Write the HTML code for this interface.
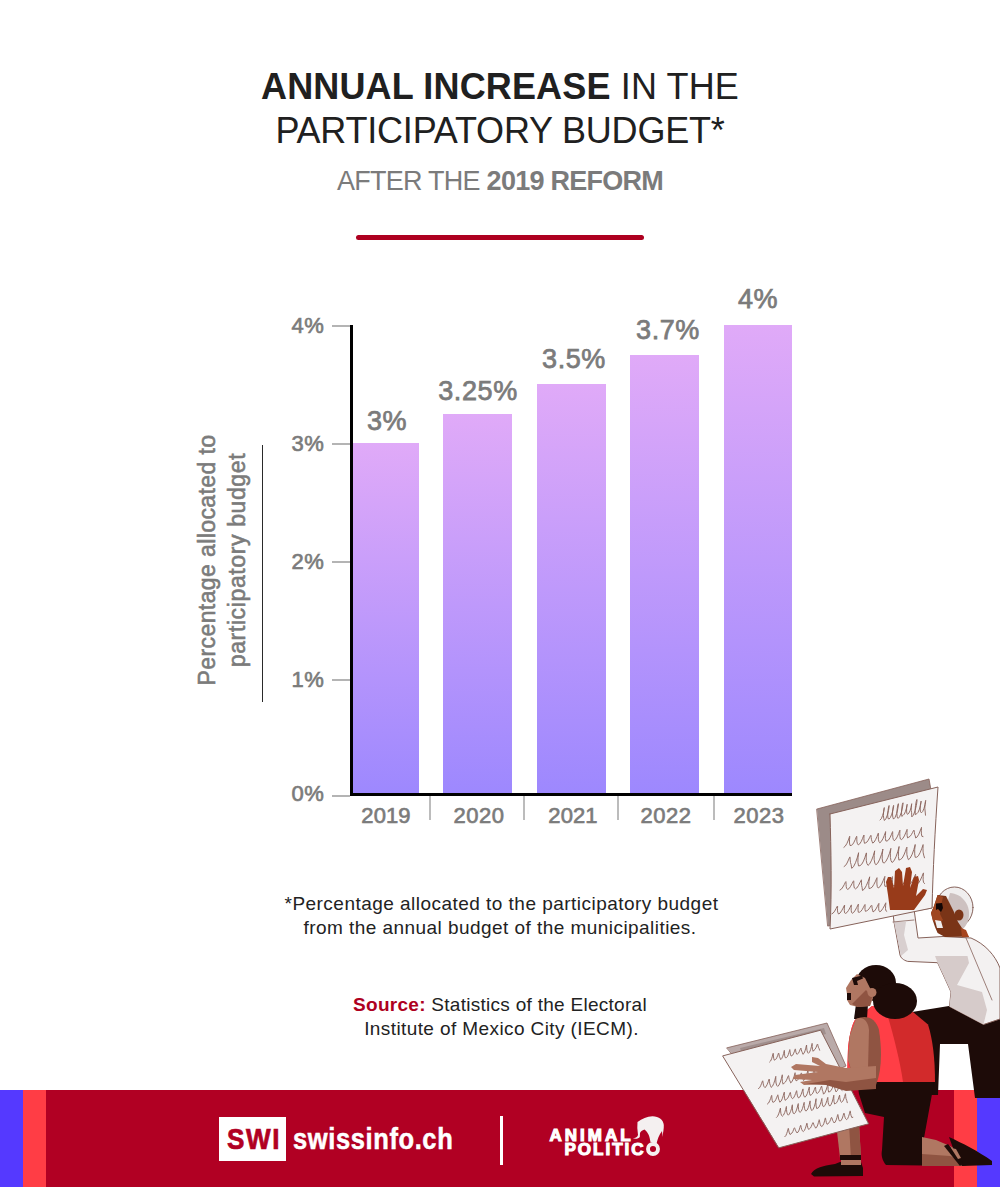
<!DOCTYPE html>
<html><head><meta charset="utf-8">
<style>
html,body{margin:0;padding:0;background:#fff;}
body{width:1000px;height:1187px;position:relative;overflow:hidden;font-family:"Liberation Sans",sans-serif;}
.t{position:absolute;white-space:nowrap;line-height:1;}
.c{left:0;width:1000px;text-align:center;}
#title1,#title2{font-size:36px;color:#202020;}
#title1{top:69.2px;letter-spacing:0.15px;}
#title2{top:113.3px;letter-spacing:-0.2px;}
#sub{top:168.2px;font-size:27px;color:#7b7b7b;letter-spacing:-0.75px;}
#redline{position:absolute;left:356px;top:235px;width:288px;height:5px;border-radius:3px;background:#ae0020;}
.ylab{position:absolute;font-size:22px;font-weight:normal;-webkit-text-stroke:0.65px #7b7b7b;color:#7b7b7b;right:676px;line-height:1;letter-spacing:0.3px;margin-top:-0.5px;}
.tick{position:absolute;left:332px;width:18px;height:2px;background:#b4b4b4;}
.bar{position:absolute;bottom:393px;background:linear-gradient(#e0aaf8,#9d88fe);}
.val{position:absolute;font-size:27px;letter-spacing:0.6px;font-weight:normal;-webkit-text-stroke:0.75px #7b7b7b;color:#7b7b7b;line-height:1;text-align:center;width:120px;margin-top:-0.8px;}
.xl{position:absolute;top:805px;font-size:22px;letter-spacing:0.1px;font-weight:normal;-webkit-text-stroke:0.65px #7b7b7b;color:#7b7b7b;line-height:1;text-align:center;width:100px;}
.xt{position:absolute;top:796px;width:2px;height:24px;background:#bcbcbc;}
#note1,#note2,#src1,#src2{font-size:19px;color:#222;}
#note1{letter-spacing:0.47px;margin-left:1.5px;}
#note2{letter-spacing:0.45px;}
#src1{letter-spacing:0.28px;}
#src2{letter-spacing:0.4px;margin-left:1.5px;}
</style></head><body>
<div id="title1" class="t c"><b>ANNUAL INCREASE</b> IN THE</div>
<div id="title2" class="t c">PARTICIPATORY BUDGET*</div>
<div id="sub" class="t c">AFTER THE <b>2019 REFORM</b></div>
<div id="redline"></div>

<!-- chart -->
<div class="ylab" style="top:315.6px">4%</div>
<div class="ylab" style="top:433.6px">3%</div>
<div class="ylab" style="top:551.6px">2%</div>
<div class="ylab" style="top:669.6px">1%</div>
<div class="ylab" style="top:783px">0%</div>
<div class="tick" style="top:325px"></div>
<div class="tick" style="top:443px"></div>
<div class="tick" style="top:561px"></div>
<div class="tick" style="top:679px"></div>
<div class="tick" style="top:795px"></div>

<div class="bar" style="left:350px;width:69px;height:351px"></div>
<div class="bar" style="left:443px;width:69px;height:380px"></div>
<div class="bar" style="left:537px;width:69px;height:410px"></div>
<div class="bar" style="left:630px;width:69px;height:439px"></div>
<div class="bar" style="left:724px;width:68px;height:469px"></div>

<div style="position:absolute;left:350px;top:325px;width:3px;height:471px;background:#000"></div>
<div style="position:absolute;left:350px;top:793px;width:442px;height:3px;background:#000"></div>

<div class="val" style="left:327px;top:409px">3%</div>
<div class="val" style="left:418px;top:379px">3.25%</div>
<div class="val" style="left:514px;top:347px">3.5%</div>
<div class="val" style="left:608px;top:318px">3.7%</div>
<div class="val" style="left:698px;top:287px">4%</div>

<div class="xt" style="left:429px"></div>
<div class="xt" style="left:523px"></div>
<div class="xt" style="left:617px"></div>
<div class="xt" style="left:713px"></div>
<div class="xl" style="left:336px">2019</div>
<div class="xl" style="left:429px;letter-spacing:0.5px">2020</div>
<div class="xl" style="left:523px">2021</div>
<div class="xl" style="left:616px;letter-spacing:0.5px">2022</div>
<div class="xl" style="left:709px;letter-spacing:0.5px">2023</div>

<div style="position:absolute;left:0;top:0;width:0;height:0;">
  <div class="t" style="left:222px;top:560px;transform:translate(-50%,-50%) rotate(-90deg);font-size:23px;letter-spacing:0.4px;color:#7b7b7b;text-align:center;line-height:30px;-webkit-text-stroke:0.6px #7b7b7b;">Percentage allocated to<br><span style="letter-spacing:0.62px">participatory budget</span></div>
</div>
<div style="position:absolute;left:261.8px;top:445px;width:1.2px;height:257px;background:#2a2a2a"></div>

<div id="note1" class="t c" style="top:893.8px">*Percentage allocated to the participatory budget</div>
<div id="note2" class="t c" style="top:917.8px">from the annual budget of the municipalities.</div>
<div id="src1" class="t c" style="top:995px"><b style="color:#ae0020">Source:</b> Statistics of the Electoral</div>
<div id="src2" class="t c" style="top:1019px">Institute of Mexico City (IECM).</div>

<!-- footer -->
<div style="position:absolute;left:0;top:1090px;width:1000px;height:97px;background:#b10023"></div>
<div style="position:absolute;left:0;top:1090px;width:23px;height:97px;background:#5539ff"></div>
<div style="position:absolute;left:23px;top:1090px;width:23px;height:97px;background:#ff3d45"></div>
<div style="position:absolute;left:954px;top:1090px;width:23px;height:97px;background:#ff3d45"></div>
<div style="position:absolute;left:977px;top:1090px;width:23px;height:97px;background:#5539ff"></div>


<!-- logos -->
<div style="position:absolute;left:219px;top:1117px;width:67px;height:44px;background:#fff"></div>
<div class="t" style="left:226.5px;top:1124.5px;font-size:29px;font-weight:bold;color:#b10023;letter-spacing:1.8px;-webkit-text-stroke:0.7px #b10023;transform:scaleX(0.9);transform-origin:0 0;">SWI</div>
<div class="t" style="left:293px;top:1124.5px;font-size:29px;font-weight:bold;color:#fff;letter-spacing:0.68px;-webkit-text-stroke:0.5px #fff;transform:scaleX(0.88);transform-origin:0 0;">swissinfo.ch</div>
<div style="position:absolute;left:500px;top:1116px;width:3px;height:49px;background:#fff"></div>
<div class="t" style="left:549.5px;top:1126.5px;font-size:17px;font-weight:bold;color:#fff;letter-spacing:3.0px;-webkit-text-stroke:1.1px #fff;">ANIMAL</div>
<div class="t" style="left:564.5px;top:1140.5px;font-size:17px;font-weight:bold;color:#fff;letter-spacing:2.0px;-webkit-text-stroke:1.1px #fff;">POLITIC</div>
<svg style="position:absolute;left:0;top:0" width="1000" height="1187" viewBox="0 0 1000 1187">
  <circle cx="653" cy="1149" r="5.0" fill="none" stroke="#f4f0f0" stroke-width="3.9"/>
  <path d="M637.5,1122 C642,1119 647,1116.5 652.5,1116.3 C659,1116.5 663.5,1120 663.8,1125 C664,1129 663,1132 662.5,1137 L662,1131 C660,1134 658,1137 656.5,1144 L650.5,1142 C649.5,1136 648.5,1133 644.5,1129.5 C642,1130.5 640.5,1131.5 640,1133 L639.8,1137 C638.5,1139 635,1139 632.8,1138.3 C635,1138 637.5,1137.5 638,1135 L637.3,1128 Z" fill="#f4f0f0"/>
</svg>


<!-- illustration -->
<svg id="illu" style="position:absolute;left:0;top:0" width="1000" height="1187" viewBox="0 0 1000 1187"><g stroke-linejoin="round" stroke-linecap="round">
<path d="M912,1012 L955,1005 L1000,1000 L1000,1098 L975,1098 L968,1044 L940,1044 L938,1095 L912,1095 Z" fill="#1d0b08"/>
<path d="M893,909 L914,909 L918,938 L943,936.5 L971,938 C985,944 995,955 1000,968 L1000,1019 L983.5,1024.5 L949.5,1006.5 L951,992 L945.4,979.6 L937.6,962.7 L907.7,961.4 C903,960 901,958 900,955 L894,922 Z" fill="#f3f1f1" stroke="#86625a" stroke-width="1"/>
<path d="M935,956 L967.5,956 L969,963 L957,985 L982,992 L987,1010 L983.5,1024.5 L949.5,1006.5 L951,992 L945.4,979.6 L937.6,962.7 Z" fill="#d6cbca"/>
<path d="M894,922 L906,922 L904,935 L908,950 L901,956 Z" fill="#d8cfcf"/>
<path d="M966,938 L992,1000" stroke="#86625a" stroke-width="0.8" fill="none"/>
<path d="M893,922 L914,920" stroke="#86625a" stroke-width="0.8" fill="none"/>
<ellipse cx="954.5" cy="907.5" rx="18.5" ry="20.5" fill="#f0eeee" stroke="#86625a" stroke-width="1"/>
<path d="M950,893 C962,894 970,904 969,916 C968,924 964,929 960,931 L952,918 L948,900 Z" fill="#cdc1c0"/>
<path d="M937.6,895 L946,896 L950,904 L954,912 L958,922 L962,928 L969,937 L963.6,936.7 L945,937 L937.6,933 L935,927 L933,921 L931,913 L934,906 Z" fill="#7a3417"/>
<path d="M937.6,895 L943,897 L941,906 L940,914 L943,920 L938,924 L933,921 L931,913 L934,906 Z" fill="#9f4620"/>
<path d="M961,928 L966,930 L969,937 L962,937 Z" fill="#a6451f"/>
<ellipse cx="959" cy="915" rx="4.5" ry="5.5" fill="#7a3417"/>
<path d="M936,903.5 L942,903 L943,908 L941,912 L938,909 L936,910 Z" fill="#120605"/>
<path d="M935,920 L941,921 L943,928 L937,928 Z" fill="#f0eeee"/>
<path d="M817,809 L929,779 L931,790 L932,908 L828,926 Z" fill="#9c8b88" stroke="#86625a" stroke-width="0.8"/>
<path d="M830,814 L938,787 C935,830 933,870 932,908 L830,929 C832,890 831,850 830,814 Z" fill="#f4f2f2" stroke="#86625a" stroke-width="1"/>
<g fill="none" stroke="#7e524a" stroke-width="0.9" opacity="0.9">
<path d="M880.0,820.0 L881.3,818.7 L882.6,815.5 L883.7,811.7 L884.2,808.7 L884.3,807.6 L884.0,808.8 L883.6,811.8 L883.4,815.4 L883.7,818.2 L884.4,820.5 L885.8,818.9 L887.3,815.1 L888.5,810.5 L889.1,806.9 L889.1,805.5 L888.6,806.9 L888.0,810.6 L887.7,815.0 L888.0,818.5 L889.1,819.0 L890.4,817.5 L891.8,814.1 L893.0,809.9 L893.6,806.7 L893.6,805.4 L893.2,806.7 L892.7,810.0 L892.5,814.0 L892.8,817.1 L893.5,819.1 L895.0,817.5 L896.6,813.6 L897.8,808.8 L898.4,805.0 L898.4,803.7 L897.8,805.1 L897.2,808.9 L896.9,813.5 L897.2,817.1 L898.1,818.4 L899.6,816.8 L901.2,812.8 L902.4,808.0 L903.0,804.2 L903.0,802.8 L902.4,804.3 L901.8,808.1 L901.5,812.7 L901.8,816.4 L903.1,815.3 L904.3,814.1 L905.5,811.3 L906.5,808.0 L907.1,805.3 L907.2,804.3 L906.9,805.3 L906.6,808.0 L906.6,811.1 L906.9,813.7 L907.8,814.3 L908.9,813.1 L910.1,810.5 L911.1,807.3 L911.6,804.7 L911.7,803.7 L911.5,804.7 L911.3,807.2 L911.2,810.3 L911.6,812.7 L911.8,816.9 L913.4,815.1 L915.1,810.6 L916.4,805.3 L917.0,801.0 L916.9,799.5 L916.3,801.2 L915.5,805.4 L915.1,810.6 L915.3,814.7 L916.8,813.7 L918.0,812.4 L919.4,809.2 L920.5,805.3 L921.1,802.2 L921.1,801.1 L920.8,802.3 L920.3,805.3 L920.2,809.0 L920.5,811.9 L921.4,812.8 L922.7,811.5 L924.0,808.3 L925.1,804.5 L925.6,801.5 L925.7,800.4 L925.4,801.6 L925.0,804.6 L924.8,808.2 L925.1,811.0 L925.5,815.2"/>
<path d="M843.9,847.3 L845.3,846.1 L847.0,843.3 L848.4,840.0 L849.3,837.3 L849.7,836.3 L849.7,837.3 L849.5,839.8 L849.5,843.0 L850.0,845.5 L851.3,845.4 L852.6,844.5 L854.0,842.2 L855.3,839.4 L856.2,837.2 L856.7,836.3 L856.8,837.1 L856.8,839.2 L856.9,841.8 L857.5,843.8 L858.3,844.9 L859.7,843.9 L861.3,841.4 L862.6,838.3 L863.5,835.9 L864.0,835.0 L864.0,835.8 L863.9,838.2 L864.0,841.0 L864.5,843.3 L865.8,842.8 L867.0,842.0 L868.3,840.1 L869.5,837.8 L870.4,836.0 L870.9,835.3 L871.1,835.9 L871.2,837.6 L871.5,839.7 L872.0,841.3 L872.7,843.1 L874.1,842.1 L875.6,839.6 L877.0,836.5 L877.9,834.1 L878.3,833.2 L878.4,834.0 L878.3,836.4 L878.4,839.2 L878.9,841.5 L879.8,842.8 L881.2,841.6 L882.9,838.8 L884.3,835.4 L885.3,832.7 L885.6,831.6 L885.6,832.6 L885.4,835.3 L885.4,838.5 L885.9,841.0 L887.1,841.0 L888.5,840.0 L890.0,837.7 L891.3,834.8 L892.2,832.5 L892.6,831.6 L892.7,832.4 L892.7,834.6 L892.8,837.3 L893.3,839.4 L894.2,840.7 L895.6,839.5 L897.2,836.9 L898.6,833.7 L899.5,831.1 L899.9,830.2 L899.9,831.1 L899.8,833.6 L899.9,836.6 L900.4,839.0 L901.4,839.6 L902.8,838.5 L904.4,835.9 L905.7,832.9 L906.7,830.4 L907.1,829.4 L907.1,830.3 L907.0,832.7 L907.1,835.6 L907.6,837.9 L908.9,837.1 L910.1,836.3 L911.4,834.6 L912.5,832.5 L913.4,830.8 L913.9,830.1 L914.2,830.7 L914.3,832.2 L914.6,834.2 L915.2,835.7 L915.7,838.0 L917.2,836.9 L918.8,834.2 L920.1,831.0 L921.1,828.4 L921.5,827.4 L921.5,828.3 L921.3,830.8 L921.4,833.9 L921.9,836.3 L923.0,836.6"/>
<path d="M844.1,866.5 L845.6,865.4 L847.1,863.0 L848.4,860.1 L849.4,857.8 L849.9,856.9 L850.1,857.7 L850.2,859.9 L850.5,862.5 L851.1,864.6 L851.7,868.3 L853.5,866.7 L855.5,862.7 L857.2,857.9 L858.3,854.1 L858.6,852.7 L858.4,854.1 L858.0,857.8 L857.9,862.3 L858.5,865.9 L860.0,865.7 L861.7,864.3 L863.5,861.1 L865.0,857.2 L866.0,854.1 L866.4,852.9 L866.4,854.0 L866.2,857.0 L866.3,860.7 L866.9,863.5 L868.0,865.4 L869.7,863.8 L871.6,860.2 L873.3,855.7 L874.3,852.2 L874.7,850.8 L874.5,852.1 L874.2,855.6 L874.2,859.8 L874.8,863.1 L875.9,864.8 L877.8,863.1 L879.8,859.1 L881.5,854.3 L882.6,850.5 L882.9,849.0 L882.7,850.5 L882.3,854.2 L882.2,858.8 L882.8,862.4 L884.2,863.0 L885.9,861.4 L887.8,857.7 L889.5,853.3 L890.5,849.8 L890.9,848.4 L890.7,849.7 L890.4,853.2 L890.4,857.4 L891.0,860.7 L892.1,862.5 L894.0,860.8 L896.0,856.8 L897.7,851.9 L898.8,848.0 L899.1,846.5 L898.9,847.9 L898.5,851.8 L898.4,856.4 L898.9,860.1 L900.6,859.4 L902.2,858.1 L903.9,855.0 L905.4,851.3 L906.4,848.3 L906.9,847.2 L906.9,848.3 L906.8,851.1 L906.9,854.6 L907.5,857.3 L908.4,859.7 L910.2,858.1 L912.2,854.2 L913.8,849.6 L914.9,845.9 L915.2,844.5 L915.1,845.9 L914.7,849.5 L914.7,853.9 L915.2,857.3 L916.8,857.2 L918.4,855.8 L920.1,852.7 L921.7,848.8 L922.7,845.8 L923.1,844.6 L923.1,845.7 L923.0,848.7 L923.1,852.2 L923.7,855.1 L924.5,857.8"/>
<path d="M840.0,890.0 L841.4,889.1 L842.9,887.0 L844.3,884.5 L845.3,882.4 L845.9,881.6 L846.0,882.4 L846.1,884.3 L846.2,886.7 L846.7,888.6 L847.7,889.4 L849.1,888.5 L850.6,886.3 L852.0,883.7 L853.1,881.6 L853.6,880.8 L853.8,881.5 L853.8,883.6 L853.9,886.0 L854.4,888.0 L855.4,888.9 L856.8,888.0 L858.4,885.7 L859.8,882.9 L860.9,880.7 L861.4,879.8 L861.5,880.6 L861.5,882.8 L861.6,885.4 L862.1,887.5 L862.5,890.5 L864.3,889.1 L866.3,885.6 L868.1,881.4 L869.3,878.1 L869.7,876.8 L869.5,878.0 L869.0,881.3 L868.7,885.4 L869.1,888.6 L870.7,888.1 L872.2,887.1 L873.9,884.4 L875.5,881.2 L876.5,878.7 L877.0,877.7 L877.0,878.6 L876.9,881.1 L876.9,884.1 L877.3,886.6 L878.2,888.0 L879.9,886.8 L881.7,883.9 L883.3,880.3 L884.4,877.5 L884.9,876.4 L884.8,877.4 L884.5,880.2 L884.5,883.6 L884.9,886.3 L886.2,886.3 L887.7,885.3 L889.3,882.8 L890.8,879.9 L891.9,877.6 L892.4,876.6 L892.5,877.5 L892.4,879.8 L892.4,882.6 L892.9,884.8 L893.8,886.2 L895.3,885.0 L897.1,882.3 L898.7,879.0 L899.8,876.3 L900.3,875.3 L900.2,876.3 L900.0,878.9 L900.0,882.0 L900.5,884.6 L901.6,885.1 L903.1,884.0 L904.8,881.5 L906.3,878.4 L907.4,875.9 L907.9,874.9 L907.9,875.8 L907.8,878.2 L907.8,881.2 L908.3,883.5 L909.4,884.2 L910.8,883.2 L912.5,880.7 L914.0,877.7 L915.1,875.2 L915.6,874.3 L915.7,875.2 L915.5,877.5 L915.6,880.4 L916.1,882.7 L916.9,884.2 L918.5,883.1 L920.3,880.2 L921.9,876.7 L923.0,873.9 L923.5,872.9 L923.4,873.9 L923.2,876.6 L923.1,879.9 L923.6,882.6 L924.6,883.5"/>
<path d="M831.9,913.8 L833.2,913.0 L834.7,911.1 L836.0,908.7 L837.0,906.7 L837.5,906.0 L837.6,906.7 L837.5,908.6 L837.5,910.9 L837.9,912.8 L838.6,914.0 L840.0,913.1 L841.6,910.8 L843.1,908.1 L844.1,905.9 L844.6,905.1 L844.6,905.9 L844.3,908.1 L844.3,910.7 L844.6,912.8 L845.5,913.4 L846.9,912.6 L848.5,910.4 L849.9,907.8 L850.9,905.7 L851.4,904.9 L851.4,905.7 L851.2,907.7 L851.2,910.3 L851.5,912.3 L852.3,913.3 L853.7,912.4 L855.3,910.1 L856.8,907.3 L857.9,905.1 L858.4,904.2 L858.3,905.1 L858.1,907.3 L858.0,910.0 L858.3,912.2 L859.4,912.3 L860.7,911.5 L862.2,909.6 L863.5,907.2 L864.5,905.2 L865.0,904.5 L865.1,905.2 L865.0,907.1 L865.0,909.4 L865.4,911.3 L866.6,910.9 L867.7,910.3 L869.0,908.9 L870.2,907.1 L871.1,905.7 L871.6,905.2 L871.9,905.7 L872.0,907.0 L872.2,908.7 L872.6,910.0 L873.0,911.9 L874.4,911.1 L876.0,908.9 L877.4,906.3 L878.4,904.2 L878.9,903.4 L878.9,904.2 L878.7,906.2 L878.7,908.8 L879.0,910.8 L879.8,911.8 L881.2,910.9 L882.8,908.6 L884.3,905.9 L885.4,903.6 L885.8,902.8 L885.8,903.6 L885.6,905.8 L885.5,908.5 L885.8,910.6 L886.8,911.3"/>
</g>
<path d="M890,910 L888,895 L886,882 L888,877 L891,877 L894,888 L895,871 L899,868 L902,872 L903,886 L906,868 L910,867 L912,872 L910,888 L914,877 L918,876 L919,880 L916,896 L923,889 L927,890 L925,895 L914,910 Z" fill="#983b1a"/>
<path d="M857,1080 L934,1080 L932,1094 L924,1138 L924,1165.5 L886,1165 C882,1160 881,1155 882,1150 L884,1117 L865,1113 L859,1094 Z" fill="#1d0b08"/>
<path d="M922,1137 L936,1140 L950,1146 L962,1152 L966,1166 L922,1166 Z" fill="#b07762"/>
<path d="M922,1154 L950,1156 L962,1160 L966,1166 L922,1166 Z" fill="#8f5442"/>
<path d="M949,1137 C962,1143 978,1151 992,1161 L992,1165 L962,1166 C958,1160 956,1154 953,1148 Z" fill="#1d0b08"/>
<path d="M944,1146 L948,1144 L963,1163 L960,1166 Z" fill="#1d0b08"/>
<path d="M951,1148 L956,1149 L961,1158 L958,1159 Z" fill="#b07762"/>
<path d="M848,1048 C850,1030 853,1022 856,1019 L872,1006 L913,1012 L928,1024.5 C933,1040 935,1060 935,1082 L847,1082 Z" fill="#d22a2b"/>
<path d="M848,1048 C850,1030 853,1022 856,1019 L872,1006 L886,1010 C892,1030 900,1060 903,1082 L847,1082 Z" fill="#ff3e46"/>
<ellipse cx="876" cy="983" rx="20" ry="18" fill="#1d0b08"/>
<ellipse cx="895" cy="1001" rx="22" ry="18" fill="#1d0b08"/>
<path d="M856,1004 L868,1004 L867,1019 L854,1019 Z" fill="#1d0b08"/>
<path d="M857,974 L865,978 L870,988 L873,998 L870,1006 L858,1007 L850,1005 L847,1000 L847,994 L846,988 L851,980 Z" fill="#b07762"/>
<path d="M866,990 L872,997 L870,1006 L858,1007 L852,1004 Z" fill="#8f5442"/>
<ellipse cx="872" cy="992.5" rx="4.5" ry="4.5" fill="#b07762"/>
<path d="M852,978 L862,975.5 L863,978.5 L857,981 L858,985 L854,985 Z" fill="#1d0b08"/>
<path d="M847,993 L851,993 L851,1000 L847,1000 Z" fill="#1d0b08"/>
<path d="M836.5,1127 L859,1124 L861,1158 L840,1158 Z" fill="#b07762"/>
<path d="M849,1125 L859,1124 L861,1158 L851,1158 Z" fill="#8f5442"/>
<path d="M811,1174 C814,1168 822,1166 835,1164 L840,1162 L861,1162 L863,1168 L863,1176 L814,1176.5 Z" fill="#1d0b08"/>
<path d="M840,1155 L861,1155 L861,1160 L840,1160 Z" fill="#1d0b08"/>
<path d="M841,1160 L861,1160 L861,1165 L841,1165 Z" fill="#b07762"/>
<path d="M727,1047.8 L827,1023 L846,1066 L770,1100 Z" fill="#b9aaa9" stroke="#86625a" stroke-width="0.8"/>
<path d="M740,1048 L824,1028 L826,1034 L742,1054 Z" fill="#a08f8d"/>
<path d="M723,1055.8 L820.6,1030.2 L868.6,1123.8 L779,1147.8 Z" fill="#f4f2f2" stroke="#86625a" stroke-width="1"/>
<g fill="none" stroke="#7e524a" stroke-width="0.9" opacity="0.9">
<path d="M769.6,1062.0 L770.6,1061.0 L771.6,1058.8 L772.4,1056.2 L772.9,1054.1 L773.2,1053.3 L773.3,1054.0 L773.4,1056.0 L773.7,1058.3 L774.3,1060.2 L775.3,1059.6 L776.2,1058.9 L777.0,1057.2 L777.8,1055.2 L778.3,1053.7 L778.6,1053.0 L778.8,1053.5 L779.1,1054.9 L779.4,1056.6 L780.0,1057.9 L780.7,1059.6 L781.7,1058.6 L782.8,1056.2 L783.6,1053.4 L784.1,1051.2 L784.3,1050.4 L784.4,1051.2 L784.5,1053.2 L784.7,1055.8 L785.3,1057.7 L786.3,1057.7 L787.3,1056.8 L788.3,1054.7 L789.0,1052.3 L789.6,1050.4 L789.8,1049.6 L789.9,1050.3 L790.1,1052.1 L790.4,1054.2 L791.0,1055.9 L791.9,1055.8 L792.8,1055.0 L793.7,1053.2 L794.5,1051.2 L795.0,1049.5 L795.3,1048.9 L795.5,1049.4 L795.7,1050.9 L796.1,1052.7 L796.7,1054.1 L797.5,1054.0 L798.4,1053.3 L799.2,1051.8 L799.9,1050.0 L800.5,1048.6 L800.8,1048.0 L801.1,1048.4 L801.3,1049.7 L801.7,1051.2 L802.3,1052.4 L802.9,1054.3 L804.0,1053.3 L805.0,1050.9 L805.8,1048.1 L806.3,1045.9 L806.6,1045.0 L806.6,1045.8 L806.7,1047.9 L807.0,1050.4 L807.6,1052.4 L808.4,1053.3 L809.5,1052.2 L810.6,1049.7 L811.4,1046.7 L811.9,1044.3 L812.1,1043.4 L812.2,1044.2 L812.2,1046.5 L812.5,1049.2 L813.1,1051.3 L814.2,1050.0 L815.0,1049.3 L815.9,1047.8 L816.6,1046.0 L817.2,1044.5 L817.5,1044.0 L817.7,1044.4 L818.0,1045.7 L818.4,1047.2 L819.0,1048.4 L819.6,1050.2"/>
<path d="M758.5,1088.5 L759.6,1087.7 L760.7,1085.7 L761.6,1083.4 L762.3,1081.5 L762.7,1080.8 L762.9,1081.4 L763.1,1083.1 L763.5,1085.1 L764.1,1086.7 L764.9,1087.6 L766.1,1086.6 L767.2,1084.4 L768.2,1081.9 L768.8,1079.8 L769.2,1079.0 L769.4,1079.7 L769.5,1081.6 L769.8,1083.9 L770.5,1085.7 L771.2,1087.4 L772.5,1086.2 L773.8,1083.4 L774.9,1080.1 L775.5,1077.4 L775.8,1076.4 L775.8,1077.4 L775.8,1079.9 L776.0,1083.0 L776.7,1085.3 L777.7,1086.4 L779.0,1085.1 L780.3,1082.1 L781.4,1078.6 L782.1,1075.8 L782.3,1074.8 L782.3,1075.8 L782.2,1078.5 L782.4,1081.7 L783.1,1084.2 L784.4,1082.8 L785.4,1082.0 L786.5,1080.2 L787.4,1078.0 L788.1,1076.3 L788.5,1075.6 L788.7,1076.2 L788.9,1077.7 L789.3,1079.6 L790.0,1081.0 L790.7,1082.9 L791.9,1081.8 L793.1,1079.2 L794.2,1076.1 L794.8,1073.7 L795.1,1072.7 L795.2,1073.6 L795.2,1075.9 L795.5,1078.7 L796.1,1080.9 L797.3,1080.1 L798.4,1079.3 L799.4,1077.4 L800.3,1075.3 L801.0,1073.6 L801.4,1072.9 L801.6,1073.4 L801.9,1075.0 L802.2,1076.8 L802.9,1078.3 L803.5,1080.5 L804.8,1079.3 L806.1,1076.6 L807.1,1073.3 L807.8,1070.7 L808.1,1069.7 L808.1,1070.7 L808.1,1073.1 L808.3,1076.1 L809.0,1078.4 L810.1,1078.1 L811.3,1077.1 L812.4,1074.9 L813.4,1072.3 L814.0,1070.2 L814.4,1069.4 L814.5,1070.1 L814.7,1072.0 L815.0,1074.4 L815.6,1076.2 L816.4,1078.2 L817.7,1076.9 L819.0,1074.0 L820.1,1070.4 L820.8,1067.6 L821.0,1066.6 L821.0,1067.6 L821.0,1070.3 L821.2,1073.5 L821.8,1076.0 L822.8,1077.1 L824.2,1075.7 L825.5,1072.7 L826.6,1069.0 L827.3,1066.1 L827.5,1065.0 L827.5,1066.0 L827.4,1068.8 L827.6,1072.2 L828.2,1074.9 L829.4,1074.5"/>
<path d="M767.4,1104.0 L768.6,1103.0 L769.7,1100.8 L770.7,1098.3 L771.3,1096.2 L771.7,1095.4 L771.8,1096.1 L771.9,1098.0 L772.2,1100.4 L772.8,1102.2 L773.8,1102.1 L774.8,1101.3 L775.9,1099.4 L776.8,1097.2 L777.5,1095.5 L777.8,1094.8 L778.0,1095.4 L778.2,1096.9 L778.6,1098.9 L779.2,1100.4 L779.8,1102.2 L781.1,1101.1 L782.3,1098.6 L783.3,1095.5 L784.0,1093.1 L784.3,1092.2 L784.3,1093.0 L784.3,1095.3 L784.5,1098.1 L785.1,1100.3 L786.3,1099.5 L787.3,1098.7 L788.4,1096.9 L789.3,1094.8 L789.9,1093.1 L790.3,1092.4 L790.5,1093.0 L790.7,1094.5 L791.1,1096.4 L791.7,1097.8 L792.5,1098.7 L793.6,1097.8 L794.7,1095.8 L795.6,1093.4 L796.3,1091.5 L796.6,1090.7 L796.8,1091.4 L796.9,1093.1 L797.3,1095.2 L797.8,1096.9 L798.7,1098.0 L799.8,1097.0 L801.0,1094.7 L802.0,1091.9 L802.6,1089.8 L803.0,1088.9 L803.1,1089.7 L803.1,1091.7 L803.4,1094.2 L804.0,1096.1 L804.8,1097.2 L806.1,1096.1 L807.3,1093.6 L808.3,1090.5 L809.0,1088.1 L809.3,1087.1 L809.3,1088.0 L809.3,1090.3 L809.5,1093.1 L810.1,1095.3 L811.3,1094.8 L812.3,1093.9 L813.4,1092.0 L814.3,1089.7 L815.0,1087.8 L815.4,1087.1 L815.6,1087.7 L815.7,1089.4 L816.0,1091.5 L816.6,1093.1 L817.5,1093.3 L818.6,1092.4 L819.6,1090.7 L820.5,1088.5 L821.2,1086.8 L821.6,1086.1 L821.8,1086.7 L822.0,1088.2 L822.3,1090.1 L822.9,1091.6 L823.5,1094.2 L824.8,1092.9 L826.1,1090.0 L827.2,1086.5 L827.9,1083.8 L828.1,1082.7 L828.1,1083.7 L828.0,1086.4 L828.1,1089.6 L828.7,1092.1 L829.9,1091.5 L831.1,1090.5 L832.2,1088.4 L833.2,1085.8 L833.8,1083.7 L834.2,1082.9 L834.3,1083.6 L834.4,1085.5 L834.7,1087.9 L835.3,1089.7 L836.0,1091.9 L837.3,1090.6 L838.7,1087.6 L839.8,1083.9 L840.5,1081.1 L840.7,1080.0 L840.6,1081.0 L840.5,1083.8 L840.6,1087.2 L841.2,1089.8 L842.2,1090.5"/>
<path d="M776.5,1117.4 L777.6,1116.3 L778.7,1113.9 L779.6,1111.1 L780.2,1108.8 L780.5,1108.0 L780.5,1108.8 L780.6,1110.9 L780.9,1113.4 L781.5,1115.4 L782.4,1116.2 L783.5,1115.1 L784.7,1112.6 L785.6,1109.7 L786.2,1107.4 L786.4,1106.5 L786.4,1107.3 L786.5,1109.5 L786.8,1112.2 L787.4,1114.2 L788.3,1115.2 L789.4,1114.0 L790.6,1111.4 L791.6,1108.3 L792.1,1105.8 L792.4,1104.8 L792.4,1105.7 L792.4,1108.1 L792.6,1110.9 L793.2,1113.2 L794.2,1113.7 L795.4,1112.6 L796.5,1110.0 L797.4,1107.0 L798.0,1104.5 L798.3,1103.6 L798.3,1104.5 L798.3,1106.8 L798.6,1109.6 L799.2,1111.7 L800.1,1112.3 L801.3,1111.2 L802.4,1108.7 L803.3,1105.7 L803.9,1103.3 L804.2,1102.4 L804.2,1103.2 L804.2,1105.5 L804.5,1108.2 L805.1,1110.3 L806.0,1111.1 L807.2,1110.0 L808.4,1107.4 L809.3,1104.3 L809.9,1101.8 L810.1,1100.9 L810.1,1101.8 L810.1,1104.1 L810.4,1106.9 L811.0,1109.1 L811.8,1110.6 L813.1,1109.3 L814.4,1106.3 L815.4,1102.7 L815.9,1099.8 L816.1,1098.7 L816.0,1099.8 L815.9,1102.5 L816.1,1105.9 L816.7,1108.5 L817.9,1108.2 L819.0,1107.1 L820.2,1104.6 L821.1,1101.7 L821.6,1099.4 L821.9,1098.5 L821.9,1099.3 L822.0,1101.5 L822.3,1104.1 L822.9,1106.2 L823.8,1106.6 L824.9,1105.6 L826.0,1103.2 L826.9,1100.5 L827.5,1098.2 L827.8,1097.4 L827.9,1098.2 L827.9,1100.2 L828.2,1102.7 L828.8,1104.7 L829.7,1106.1 L830.9,1104.8 L832.1,1102.1 L833.0,1098.9 L833.6,1096.3 L833.8,1095.3 L833.8,1096.2 L833.8,1098.7 L834.0,1101.7 L834.6,1104.0 L835.7,1103.4 L836.8,1102.5 L837.8,1100.4 L838.7,1098.0 L839.3,1096.0 L839.6,1095.2 L839.7,1095.9 L839.8,1097.7 L840.2,1099.9 L840.8,1101.6 L841.6,1102.3 L842.7,1101.3 L843.8,1099.1 L844.6,1096.6 L845.2,1094.5 L845.5,1093.7 L845.6,1094.4 L845.7,1096.3 L846.0,1098.6 L846.7,1100.4 L847.3,1102.7"/>
<path d="M784.8,1136.7 L785.8,1135.7 L786.7,1133.6 L787.5,1131.2 L788.0,1129.2 L788.3,1128.4 L788.5,1129.1 L788.8,1130.8 L789.3,1132.9 L790.0,1134.5 L791.0,1133.8 L791.9,1133.1 L792.8,1131.6 L793.5,1129.9 L794.0,1128.4 L794.4,1127.8 L794.8,1128.2 L795.2,1129.4 L795.7,1130.8 L796.4,1131.9 L797.1,1133.0 L798.1,1132.0 L799.1,1130.1 L799.8,1127.8 L800.3,1126.0 L800.7,1125.3 L800.9,1125.8 L801.2,1127.4 L801.7,1129.4 L802.4,1130.8 L803.3,1131.6 L804.3,1130.6 L805.3,1128.5 L806.1,1126.0 L806.6,1124.0 L806.9,1123.2 L807.1,1123.8 L807.4,1125.6 L807.8,1127.8 L808.6,1129.4 L809.6,1128.7 L810.5,1127.9 L811.3,1126.4 L812.0,1124.7 L812.6,1123.2 L813.0,1122.6 L813.3,1123.0 L813.7,1124.2 L814.2,1125.6 L814.9,1126.7 L815.7,1128.2 L816.7,1127.2 L817.7,1125.0 L818.4,1122.5 L819.0,1120.5 L819.2,1119.7 L819.4,1120.3 L819.7,1122.1 L820.2,1124.3 L820.9,1126.0 L821.8,1126.5 L822.9,1125.5 L823.9,1123.3 L824.6,1120.8 L825.1,1118.7 L825.4,1117.9 L825.6,1118.6 L825.9,1120.4 L826.4,1122.6 L827.1,1124.3 L828.1,1123.6 L829.0,1122.8 L829.9,1121.3 L830.6,1119.5 L831.1,1118.0 L831.5,1117.4 L831.9,1117.8 L832.2,1119.0 L832.7,1120.5 L833.4,1121.6 L834.2,1123.0 L835.2,1122.0 L836.2,1119.9 L837.0,1117.3 L837.5,1115.3 L837.8,1114.5 L838.0,1115.1 L838.3,1116.9 L838.7,1119.2 L839.4,1120.9 L840.4,1121.0 L841.4,1120.0 L842.4,1118.0 L843.1,1115.7 L843.6,1113.8 L844.0,1113.1 L844.2,1113.7 L844.5,1115.3 L845.0,1117.3 L845.7,1118.8 L846.6,1119.7 L847.6,1118.7 L848.6,1116.4 L849.4,1113.8 L849.9,1111.7 L850.2,1110.9 L850.4,1111.6 L850.6,1113.5 L851.1,1115.7 L851.8,1117.5 L852.8,1117.3"/>
</g>
<path d="M856,1019 C866,1014 876,1018 879,1030 C882,1050 882,1070 876,1085 L856,1088 L848,1060 L850,1035 Z" fill="#8f5442"/>
<path d="M856,1019 C862,1016 868,1020 869,1030 L868,1068 L852,1072 L848,1060 L850,1035 Z" fill="#b07762"/>
<path d="M876,1066 L846,1068 L826,1064 L818,1058 L812,1057 L812,1062 L820,1066 L796,1064 L791,1067 L794,1070 L818,1072 L795,1075 L793,1079 L812,1080 L800,1082 L804,1085 L826,1084 L846,1090 L876,1088 Z" fill="#b07762"/>
<path d="M876,1078 L846,1082 L830,1080 L806,1084 L826,1085 L846,1091 L876,1089 Z" fill="#8f5442"/>
</g></svg>

</body></html>
